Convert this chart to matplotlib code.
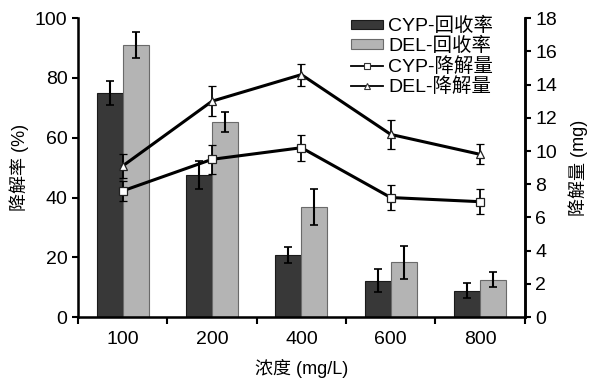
import matplotlib
matplotlib.use("Agg")
import matplotlib.pyplot as plt
from matplotlib.lines import Line2D
import numpy as np

plt.rcParams['font.family'] = ['Liberation Sans', 'Noto Sans CJK SC']

# -------------------------------------------------------------------------
# Data
# -------------------------------------------------------------------------
conc = ["100", "200", "400", "600", "800"]

cyp_recovery = [75, 47.5, 20.7, 12.2, 8.9]
cyp_recovery_err = [4.0, 4.8, 2.6, 3.8, 2.6]
del_recovery = [91, 65.2, 36.7, 18.3, 12.5]
del_recovery_err = [4.3, 3.3, 6.0, 5.5, 2.5]

cyp_degr = [7.6, 9.5, 10.2, 7.2, 6.95]
cyp_degr_err = [0.6, 0.86, 0.78, 0.78, 0.77]
del_degr = [9.1, 13.0, 14.6, 11.0, 9.8]
del_degr_err = [0.7, 0.9, 0.66, 0.86, 0.6]

# -------------------------------------------------------------------------
# Plot
# -------------------------------------------------------------------------
fig = plt.figure(figsize=(5.93, 3.78), dpi=100)
ax = fig.add_axes([0.1315, 0.161, 0.7535, 0.791])
x = np.arange(len(conc))
w = 0.29

ax.bar(x - w / 2, cyp_recovery, w, yerr=cyp_recovery_err, color="#383838",
       edgecolor="#1a1a1a", linewidth=0.8, label="CYP-回收率",
       error_kw=dict(ecolor="black", elinewidth=1.5, capsize=3, capthick=1.2))
ax.bar(x + w / 2, del_recovery, w, yerr=del_recovery_err, color="#b4b4b4",
       edgecolor="#6a6a6a", linewidth=0.8, label="DEL-回收率",
       error_kw=dict(ecolor="black", elinewidth=1.5, capsize=3, capthick=1.2))

ax.set_xlim(-0.5, len(conc) - 0.5)
ax.set_ylim(0, 100)
ax.set_yticks(np.arange(0, 101, 20))
ax.set_xticks(x)
ax.set_xticklabels(conc)
ax.set_xticks(np.arange(-0.5, len(conc), 1), minor=True)
ax.tick_params(axis="x", which="major", length=0, labelsize=14, pad=10)
ax.tick_params(axis="x", which="minor", length=5, width=1.5, direction="out")
ax.tick_params(axis="y", length=4, width=1.5, labelsize=14, direction="out")
ax.spines["top"].set_visible(False)
for s in ["left", "bottom", "right"]:
    ax.spines[s].set_linewidth(1.8)
ax.set_xlabel("浓度 (mg/L)", fontsize=13, labelpad=8)
ax.set_ylabel("降解率 (%)", fontsize=13, labelpad=4)

ax2 = ax.twinx()
ax2.errorbar(x, cyp_degr, yerr=cyp_degr_err, color="black", lw=2.2,
             marker="s", ms=5.5, mfc="white", mec="#222222", mew=0.9,
             ecolor="black", elinewidth=1.3, capsize=3, capthick=1.2)
ax2.errorbar(x, del_degr, yerr=del_degr_err, color="black", lw=2.2,
             marker="^", ms=5.5, mfc="white", mec="#222222", mew=0.9,
             ecolor="black", elinewidth=1.3, capsize=3, capthick=1.2)
ax2.set_ylim(0, 18)
ax2.set_yticks(np.arange(0, 19, 2))
ax2.tick_params(axis="y", length=4, width=1.5, labelsize=14, direction="out")
ax2.spines["top"].set_visible(False)
ax2.spines["right"].set_linewidth(1.8)
ax2.set_ylabel("降解量 (mg)", fontsize=13, labelpad=8)

h1, l1 = ax.get_legend_handles_labels()
line_handles = [
    Line2D([], [], color="black", lw=1.3, marker="s", ms=4.5, mfc="white",
           mec="#333333", mew=0.8),
    Line2D([], [], color="black", lw=1.3, marker="^", ms=4.5, mfc="white",
           mec="#333333", mew=0.8),
]
ax2.legend(h1 + line_handles, l1 + ["CYP-降解量", "DEL-降解量"],
           loc="upper left", bbox_to_anchor=(0.578, 0.975),
           bbox_transform=fig.transFigure, frameon=False, fontsize=14,
           handlelength=1.65, handleheight=0.4, handletextpad=0.3,
           labelspacing=0.08, borderaxespad=0)

fig.savefig("out.png", dpi=100)
